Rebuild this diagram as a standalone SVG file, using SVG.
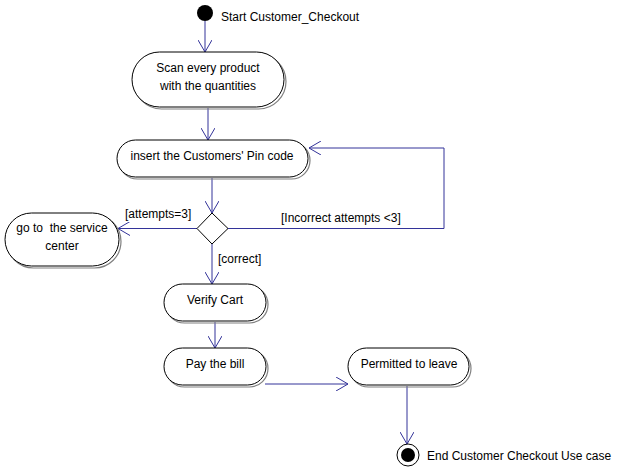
<svg xmlns="http://www.w3.org/2000/svg" width="623" height="472" viewBox="0 0 623 472">
<defs>
<marker id="arr" markerWidth="14" markerHeight="14" refX="12" refY="7" orient="auto" markerUnits="userSpaceOnUse">
<path d="M0,0 L12,7 L0,14" fill="none" stroke="#333399" stroke-width="1"/>
</marker>
</defs>
<style>
.node rect.sh{fill:none;stroke:#808080;stroke-width:1.2}
.node rect.bd{fill:#ffffff;stroke:#000000;stroke-width:1}
text{font-family:"Liberation Sans",Arial,sans-serif;font-size:12px;fill:#000;white-space:pre}
.c{text-anchor:middle}
.edge{fill:none;stroke:#333399;stroke-width:1;marker-end:url(#arr)}
</style>
<rect width="623" height="472" fill="#ffffff"/>
<g id="connectors">
<line class="edge" x1="205" y1="21" x2="205" y2="52"/>
<line class="edge" x1="208" y1="108" x2="208" y2="140"/>
<line class="edge" x1="212" y1="178" x2="212" y2="213"/>
<polyline class="edge" points="228,228.5 444,228.5 444,148 309,148"/>
<line class="edge" x1="197" y1="228.5" x2="118" y2="228.5"/>
<line class="edge" x1="212" y1="244" x2="212" y2="284"/>
<line class="edge" x1="215" y1="322" x2="215" y2="348"/>
<line class="edge" x1="265" y1="384" x2="348" y2="384"/>
<line class="edge" x1="407" y1="386" x2="407" y2="444"/>
<text x="281" y="222">[Incorrect attempts &lt;3]</text>
<text x="125" y="218">[attempts=3]</text>
<text x="218" y="263">[correct]</text>
</g>
<g id="start">
<circle cx="205" cy="13" r="8" fill="#000"/>
<text x="221" y="21">Start Customer_Checkout</text>
</g>
<g id="scan" class="node">
<rect class="sh" x="134" y="54" width="152" height="55" rx="27.5"/>
<rect class="bd" x="132" y="52" width="152" height="55" rx="27.5"/>
<text class="c" x="208" y="72">Scan every product</text>
<text class="c" x="208" y="90">with the quantities</text>
</g>
<g id="pin" class="node">
<rect class="sh" x="119" y="142" width="191" height="37" rx="18.5"/>
<rect class="bd" x="117" y="140" width="191" height="37" rx="18.5"/>
<text class="c" x="212" y="160">insert the Customers' Pin code</text>
</g>
<g id="decision">
<polygon points="212,213 228,228.5 212,244 197,228.5" fill="#fff" stroke="#000"/>
</g>
<g id="service" class="node">
<rect class="sh" x="7" y="215" width="114" height="53" rx="26.5"/>
<rect class="bd" x="5" y="213" width="114" height="53" rx="26.5"/>
<text class="c" x="62" y="232" xml:space="preserve">go to  the service</text>
<text class="c" x="62" y="250">center</text>
</g>
<g id="verify" class="node">
<rect class="sh" x="166" y="286" width="102" height="37" rx="18.5"/>
<rect class="bd" x="164" y="284" width="102" height="37" rx="18.5"/>
<text class="c" x="215" y="304">Verify Cart</text>
</g>
<g id="pay" class="node">
<rect class="sh" x="166" y="350" width="102" height="37" rx="18.5"/>
<rect class="bd" x="164" y="348" width="102" height="37" rx="18.5"/>
<text class="c" x="215" y="368">Pay the bill</text>
</g>
<g id="permitted" class="node">
<rect class="sh" x="350" y="350" width="121" height="37" rx="18.5"/>
<rect class="bd" x="348" y="348" width="121" height="37" rx="18.5"/>
<text class="c" x="409" y="368">Permitted to leave</text>
</g>
<g id="end">
<circle cx="408" cy="455" r="11" fill="#fff" stroke="#000"/>
<circle cx="408" cy="455" r="7" fill="#000"/>
<text x="427" y="460">End Customer Checkout Use case</text>
</g>
</svg>
